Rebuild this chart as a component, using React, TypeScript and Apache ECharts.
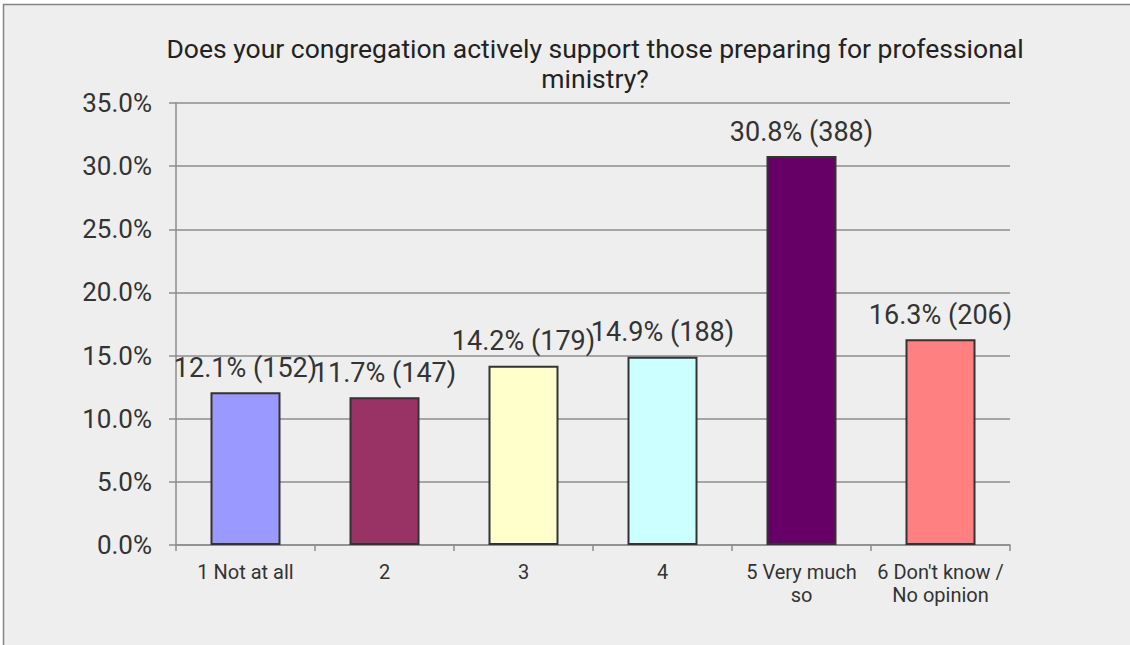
import React, { useEffect, useRef } from "react";
import * as echarts from "echarts";

const categories = ["1 Not at all", "2", "3", "4", "5 Very much so", "6 Don't know / No opinion"];
const tickLabels = ["1 Not at all", "2", "3", "4", "5 Very much\nso", "6 Don't know /\nNo opinion"];
const percentages = [12.1, 11.7, 14.2, 14.9, 30.8, 16.3];
const counts = [152, 147, 179, 188, 388, 206];
const barColors = ["#9999ff", "#993366", "#ffffcc", "#ccffff", "#660066", "#ff8080"];
const yTicks = { min: 0, max: 35, interval: 5 };
const titleText = "Does your congregation actively support those preparing for professional\nministry?";

const FONT = "Roboto, 'Liberation Sans', Arial, sans-serif";

export default function App() {
  const ref = useRef<HTMLDivElement>(null);
  useEffect(() => {
    if (!ref.current) return;
    const chart = echarts.init(ref.current, null, { renderer: "svg" });
    chart.setOption({
      animation: false,
      backgroundColor: "#ffffff",
      textStyle: { fontFamily: FONT },
      graphic: [
        {
          type: "rect",
          z: -10,
          silent: true,
          shape: { x: 3.5, y: 4.5, width: 1140, height: 660 },
          style: { fill: "#eeeeee", stroke: "#858585", lineWidth: 1.5 },
        },
        {
          type: "text",
          x: 595,
          y: 33,
          style: {
            text: titleText,
            font: `26.5px ${FONT}`,
            fill: "#222222",
            textAlign: "center",
            textVerticalAlign: "top",
            lineHeight: 30,
          },
        },
      ],
      grid: { left: 176, top: 103, width: 834, height: 442, containLabel: false },
      xAxis: {
        type: "category",
        data: categories,
        axisLine: { show: true, lineStyle: { color: "#8c8c8c", width: 1.5 } },
        axisTick: { show: true, length: 6, alignWithLabel: false, lineStyle: { color: "#8c8c8c", width: 1.5 } },
        axisLabel: {
          fontSize: 20,
          color: "#333333",
          fontFamily: FONT,
          margin: 15,
          lineHeight: 23,
          interval: 0,
          formatter: (_v: string, i: number) => tickLabels[i],
        },
      },
      yAxis: {
        type: "value",
        min: yTicks.min,
        max: yTicks.max,
        interval: yTicks.interval,
        axisLine: { show: true, lineStyle: { color: "#8c8c8c", width: 1.5 } },
        axisTick: { show: true, length: 7, lineStyle: { color: "#8c8c8c", width: 1.5 } },
        splitLine: { show: true, lineStyle: { color: "#8c8c8c", width: 1.5 } },
        axisLabel: {
          fontSize: 26,
          color: "#333333",
          fontFamily: FONT,
          margin: 24,
          formatter: (v: number) => v.toFixed(1) + "%",
        },
      },
      series: [
        {
          type: "bar",
          barWidth: 70,
          data: percentages.map((v, i) => ({
            value: v,
            itemStyle: { color: barColors[i], borderColor: "#333333", borderWidth: 2 },
          })),
          label: {
            show: true,
            position: "top",
            distance: 11,
            fontSize: 27,
            color: "#333333",
            fontFamily: FONT,
            formatter: (p: any) => `${percentages[p.dataIndex].toFixed(1)}% (${counts[p.dataIndex]})`,
          },
        },
      ],
    });
    return () => chart.dispose();
  }, []);
  return (
    <div
      ref={ref}
      style={{ position: "fixed", left: 0, top: 0, width: 1130, height: 645, background: "#ffffff" }}
    />
  );
}
